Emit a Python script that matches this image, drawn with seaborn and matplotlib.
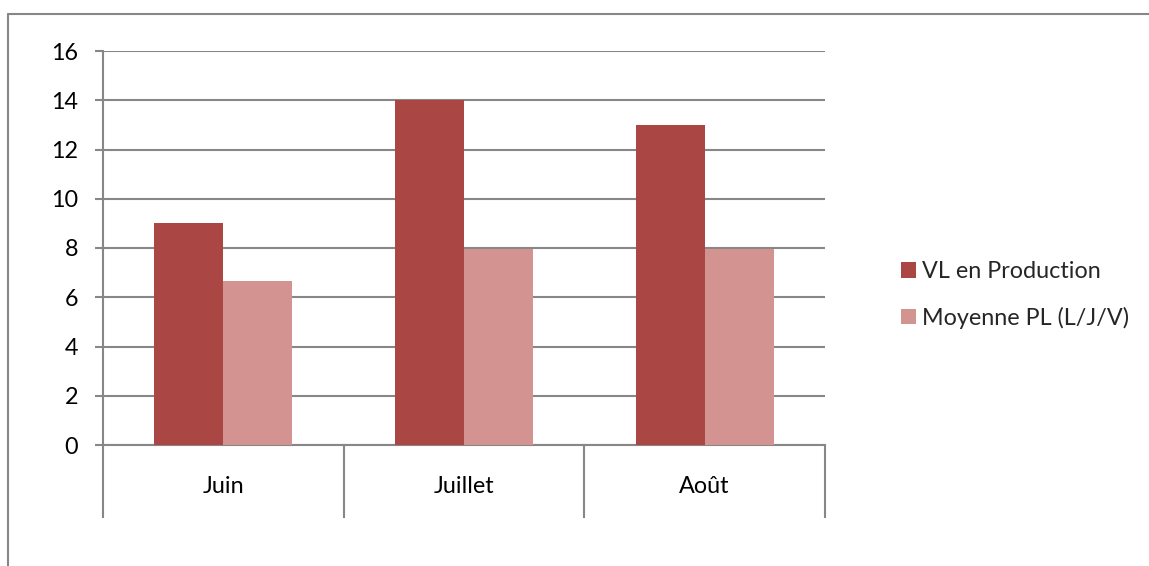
import matplotlib
matplotlib.use("Agg")
import matplotlib.pyplot as plt
from matplotlib.lines import Line2D
from matplotlib.patches import Patch
import seaborn as sns
import pandas as pd

# Monthly figures
mois = ["Juin", "Juillet", "Août"]
vl_production = [9, 14, 13]
moyenne_pl = [6.65, 7.95, 7.95]
series = ["VL en Production", "Moyenne PL (L/J/V)"]
couleurs = ["#AA4745", "#D39391"]
y_ticks = [0, 2, 4, 6, 8, 10, 12, 14, 16]

df = pd.DataFrame({
    "mois": mois * 2,
    "valeur": vl_production + moyenne_pl,
    "serie": [series[0]] * len(mois) + [series[1]] * len(mois),
})

sns.set_style("white")
plt.rcParams["font.family"] = ["Lato", "DejaVu Sans"]
FS = 16.8

W, H = 1149, 566
fig = plt.figure(figsize=(W / 100, H / 100), dpi=100)
ax = fig.add_axes([103 / W, 1 - 445 / H, (825 - 103) / W, (445 - 51) / H])

sns.barplot(data=df, x="mois", y="valeur", hue="serie", order=mois,
            hue_order=series, palette=couleurs, width=0.574, gap=0,
            saturation=1, errorbar=None, legend=False, ax=ax, zorder=3)
for p in ax.patches:
    p.set_edgecolor("none")

grey = "#878787"
ax.set_ylim(0, 16)
ax.set_xlim(-0.5, len(mois) - 0.5)
ax.set_yticks(y_ticks)
ax.yaxis.grid(True, color=grey, linewidth=1.5, zorder=0)
ax.set_axisbelow(True)
ax.set_xlabel("")
ax.set_ylabel("")

for s in ["top", "right"]:
    ax.spines[s].set_visible(False)
for s in ["left", "bottom"]:
    ax.spines[s].set_color(grey)
    ax.spines[s].set_linewidth(1.5)

ax.tick_params(axis="y", which="major", left=True, length=5.8, width=1.5,
               color=grey, pad=12, labelsize=FS, labelcolor="black")

# Category separators below the axis, labels centred between them
ax.set_xticks([i - 0.5 for i in range(len(mois) + 1)], minor=True)
ax.tick_params(axis="x", which="minor", bottom=True, length=52.5, width=1.5,
               color=grey)
ax.tick_params(axis="x", which="major", bottom=False, length=0, pad=22,
               labelsize=FS, labelcolor="black")

# Legend on the right
handles = [Patch(facecolor=c, edgecolor="none") for c in couleurs]
fig.legend(handles, series, loc="center left",
           bbox_to_anchor=(901 / W, 1 - 295 / H), frameon=False,
           borderpad=0, borderaxespad=0,
           fontsize=FS, handlelength=0.65, handleheight=0.65,
           handletextpad=0.25, labelspacing=1.05)

# Outer chart frame
fig.add_artist(Line2D([8 / W, 1], [1 - 14 / H, 1 - 14 / H], color=grey,
                      linewidth=1.5, transform=fig.transFigure))
fig.add_artist(Line2D([8 / W, 8 / W], [0, 1 - 14 / H], color=grey,
                      linewidth=1.5, transform=fig.transFigure))

fig.savefig("out.png", dpi=100, facecolor="white")
